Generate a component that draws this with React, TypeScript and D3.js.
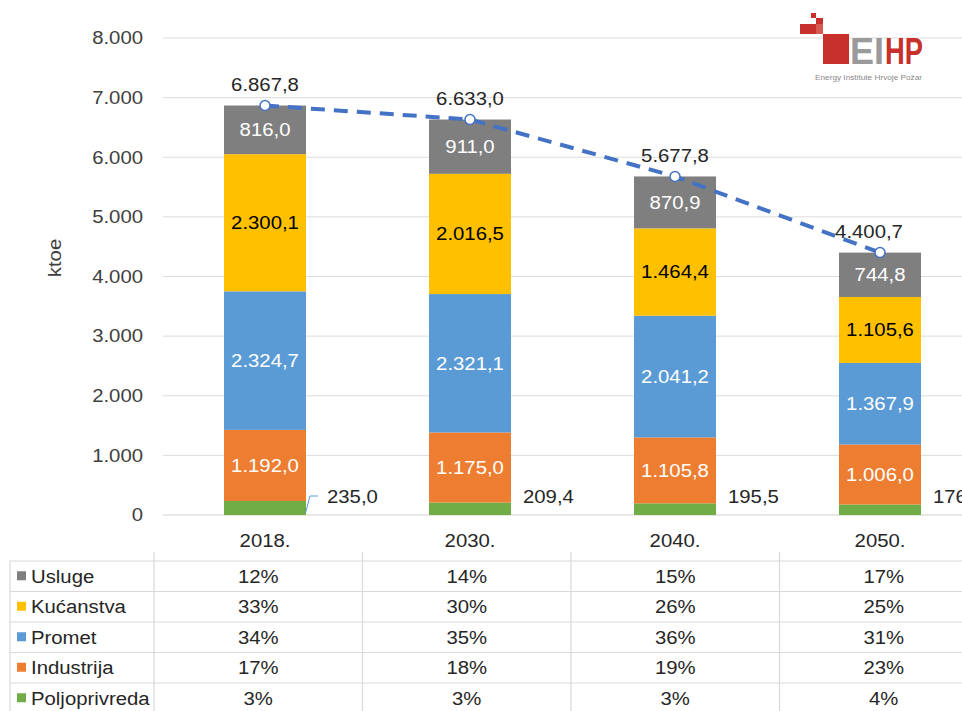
import React from 'react';
import * as d3 from 'd3';

const years = ['2018.', '2030.', '2040.', '2050.'];
const sectors = ['Usluge', 'Kućanstva', 'Promet', 'Industrija', 'Poljoprivreda'];
const colors = ['#7f7f7f', '#ffc000', '#5b9bd5', '#ed7d31', '#70ad47'];

const poljoprivreda = [235.0, 209.4, 195.5, 176.4];
const industrija = [1192.0, 1175.0, 1105.8, 1006.0];
const promet = [2324.7, 2321.1, 2041.2, 1367.9];
const kucanstva = [2300.1, 2016.5, 1464.4, 1105.6];
const usluge = [816.0, 911.0, 870.9, 744.8];
const totals = [6867.8, 6633.0, 5677.8, 4400.7];

const shareUsluge = ['12%', '14%', '15%', '17%'];
const shareKucanstva = ['33%', '30%', '26%', '25%'];
const sharePromet = ['34%', '35%', '36%', '31%'];
const shareIndustrija = ['17%', '18%', '19%', '23%'];
const sharePoljo = ['3%', '3%', '3%', '4%'];

const yTicks = [0, 1000, 2000, 3000, 4000, 5000, 6000, 7000, 8000];

const W = 962, H = 711;
const font = '"Liberation Sans", Arial, sans-serif';

// croatian number format: 6.867,8
const fmt = (v: number, dec: number) => {
  const s = v.toFixed(dec);
  const [i, d] = s.split('.');
  const ii = i.replace(/\B(?=(\d{3})+(?!\d))/g, '.');
  return d ? ii + ',' + d : ii;
};

// the source picture is a bit stretched sideways, so text is widened
const T = ({ x, y, anchor = 'start', fill = '#262626', children }: any) => (
  <text transform={`translate(${x},${y}) scale(1.13,1)`} dy="0.35em" textAnchor={anchor}
    fontSize={18} fill={fill}>
    {children}
  </text>
);

export default function App() {
  const y = d3.scaleLinear().domain([0, 8000]).range([515, 38]);
  const x = d3.scaleBand().domain(years).range([162.5, 982.5]).paddingInner(0.6).paddingOuter(0.3);
  const bw = x.bandwidth();
  const cx = (yr: string) => (x(yr) as number) + bw / 2;

  // stack bottom to top
  const stackOrder = [
    { name: 'Poljoprivreda', vals: poljoprivreda, color: colors[4], txt: null },
    { name: 'Industrija', vals: industrija, color: colors[3], txt: '#fff' },
    { name: 'Promet', vals: promet, color: colors[2], txt: '#fff' },
    { name: 'Kućanstva', vals: kucanstva, color: colors[1], txt: '#000' },
    { name: 'Usluge', vals: usluge, color: colors[0], txt: '#fff' },
  ];

  const segs: any[] = [];
  years.forEach((yr, i) => {
    let base = 0;
    stackOrder.forEach(s => {
      const v = s.vals[i];
      segs.push({ yr, y0: base, y1: base + v, v, color: s.color, txt: s.txt, key: s.name + yr });
      base += v;
    });
  });

  const linePts = years.map((yr, i) => [cx(yr), y(totals[i])] as [number, number]);
  const line = d3.line();

  // table
  const tx = d3.scaleBand().domain(years).range([154, 988]);
  const rowTops = [561, 591.5, 622, 652.5, 683];
  const rowH = 30.5;
  const shares = [shareUsluge, shareKucanstva, sharePromet, shareIndustrija, sharePoljo];

  return (
    <svg width={W} height={H} style={{ position: 'absolute', left: 0, top: 0, background: '#fff' }}
      fontFamily={font}>
      {/* gridlines */}
      {yTicks.map(t => (
        <line key={'g' + t} x1={163} x2={W} y1={y(t)} y2={y(t)} stroke={t === 0 ? '#d0d0d0' : '#dcdcdc'} strokeWidth={1} />
      ))}
      {yTicks.map(t => (
        <T key={'t' + t} x={143} y={y(t)} anchor="end" fill="#404040">{fmt(t, 0)}</T>
      ))}
      <text transform="translate(55,258) rotate(-90) scale(1.13,1)" textAnchor="middle" dy="0.35em" fontSize={18} fill="#404040">ktoe</text>

      {/* logo */}
      <g>
        <rect x={811} y={13} width={5} height={5} fill="#c8312b" />
        <rect x={816} y={18} width={7} height={6} fill="#c8312b" />
        <rect x={800} y={24} width={16} height={10} fill="#c8312b" />
        <rect x={816} y={24} width={7} height={10} fill="#d65a52" />
        <rect x={823} y={34} width={26} height={30} fill="#c8312b" />
        <text x={850} y={64} fontSize={37} fontWeight="bold" fill="#9a9a9a" textLength={34} lengthAdjust="spacingAndGlyphs">EI</text>
        <text x={885} y={64} fontSize={37} fontWeight="bold" fill="#c8312b" textLength={38} lengthAdjust="spacingAndGlyphs">HP</text>
        <text x={815} y={80} fontSize={7.5} fill="#8a8a8a" textLength={107} lengthAdjust="spacingAndGlyphs">Energy Institute Hrvoje Požar</text>
      </g>

      {/* bars */}
      {segs.map(s => (
        <rect key={s.key} x={x(s.yr)} y={y(s.y1)} width={bw} height={y(s.y0) - y(s.y1)} fill={s.color} />
      ))}
      {segs.filter(s => s.txt).map(s => (
        <T key={'l' + s.key} x={cx(s.yr)} y={(y(s.y0) + y(s.y1)) / 2} anchor="middle" fill={s.txt}>
          {fmt(s.v, 1)}
        </T>
      ))}

      {/* poljoprivreda labels to the right */}
      <polyline points="305.5,513 310,496 318,496" fill="none" stroke="#5b9bd5" strokeWidth={1} />
      {years.map((yr, i) => (
        <T key={'p' + yr} x={(x(yr) as number) + bw + (i === 0 ? 21 : 12)} y={497}>
          {fmt(poljoprivreda[i], 1)}
        </T>
      ))}

      {/* total line */}
      <path d={line(linePts) || ''} fill="none" stroke="#4472c4" strokeWidth={4} strokeDasharray="14,9" />
      {linePts.map((p, i) => (
        <circle key={'c' + i} cx={p[0]} cy={p[1]} r={5} fill="#fff" stroke="#4472c4" strokeWidth={1.5} />
      ))}
      {years.map((yr, i) => (
        <T key={'tot' + yr} x={cx(yr) + (i === 3 ? -11 : 0)} y={y(totals[i]) - 21} anchor="middle">
          {fmt(totals[i], 1)}
        </T>
      ))}

      {/* category labels */}
      {years.map(yr => (
        <T key={'x' + yr} x={cx(yr)} y={541} anchor="middle">{yr}</T>
      ))}

      {/* data table */}
      {years.map(yr => (
        <line key={'v' + yr} x1={tx(yr)} x2={tx(yr)} y1={552} y2={H} stroke="#d9d9d9" strokeWidth={1.2} />
      ))}
      <line x1={10} x2={10} y1={561} y2={H} stroke="#d9d9d9" strokeWidth={1.2} />
      {rowTops.map(t => (
        <line key={'h' + t} x1={10} x2={W} y1={t} y2={t} stroke="#d9d9d9" strokeWidth={1.2} />
      ))}
      {sectors.map((s, r) => (
        <g key={'row' + s}>
          <rect x={17} y={rowTops[r] + rowH / 2 - 5} width={9} height={9} fill={colors[r]} />
          <T x={31} y={rowTops[r] + rowH / 2}>{s}</T>
          {years.map((yr, c) => (
            <T key={s + yr} x={(tx(yr) as number) + tx.bandwidth() / 2} y={rowTops[r] + rowH / 2} anchor="middle">
              {shares[r][c]}
            </T>
          ))}
        </g>
      ))}
    </svg>
  );
}
